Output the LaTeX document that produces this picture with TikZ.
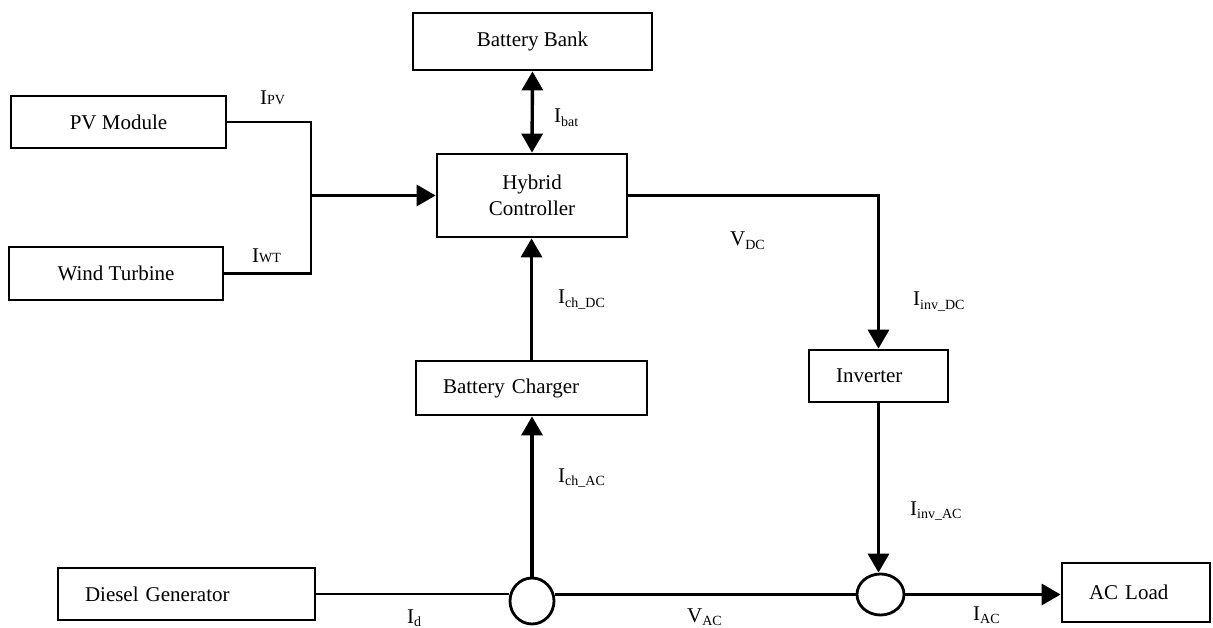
\documentclass[tikz,border=0pt]{standalone}
\usepackage{fontspec}
\setmainfont{Liberation Serif}
\usetikzlibrary{arrows.meta,shapes.geometric}
\newcommand\Isub[2]{#1\raisebox{-0.35ex}{\fontsize{14}{16}\selectfont #2}}
\newcommand\Ibase[2]{#1{\fontsize{14}{16}\selectfont #2}}
\begin{document}
\begin{tikzpicture}[x=1pt,y=-1pt,
  every node/.style={font=\fontsize{21}{25}\selectfont},
  blk/.style={draw, line width=2.8pt, inner sep=0pt, align=center},
  lblk/.style={draw, line width=2.8pt, inner xsep=27pt, inner ysep=0pt, align=left},
  junc/.style={draw, ellipse, line width=2.8pt, inner sep=0pt},
  wire/.style={line width=2.8pt},
  arr/.style={line width=3.4pt, -{Triangle[width=21pt,length=19pt]}},
  darr/.style={line width=3.4pt, {Triangle[width=21pt,length=19pt]}-{Triangle[width=21pt,length=19pt]}},
  tag/.style={inner sep=0pt, anchor=base west}]
\useasboundingbox (0,0) rectangle (1213,628);

% blocks
\node[blk, minimum width=215pt, minimum height=52pt] (pv) at (118.5,122) {PV Module};
\node[blk, minimum width=214pt, minimum height=53pt] (wt) at (116,273.5) {Wind Turbine};
\node[blk, minimum width=239pt, minimum height=57pt] (bb) at (532.5,41.5) {Battery Bank};
\node[blk, minimum width=190pt, minimum height=83pt, font=\fontsize{21}{26}\selectfont] (hc) at (532,195.5) {Hybrid\\Controller};
\node[lblk, text width=177pt, minimum height=54pt] (bc) at (531.5,388) {Battery Charger};
\node[lblk, text width=85pt, minimum height=52pt] (inv) at (878.5,376) {Inverter};
\node[lblk, text width=203pt, minimum height=52pt] (dg) at (186.5,594) {Diesel Generator};
\node[lblk, text width=94pt, minimum height=59pt] (acl) at (1136,592.5) {AC Load};

% junctions
\node[junc, minimum width=44pt, minimum height=46pt] (c1) at (532,601) {};
\node[junc, minimum width=47pt, minimum height=41pt] (c2) at (880.5,594.5) {};
\coordinate (j) at (311,195.5);

% connectors
\draw[wire] (pv.east) -| (j) |- (wt.east);
\draw[arr] (j) -- (hc.west);
\draw[darr] (bb.south) -- (hc.north);
\draw[arr] (hc.east) -| (inv.north);
\draw[arr] (bc.north) -- (bc.north |- hc.south);
\draw[arr] (c1.north) -- (c1.north |- bc.south);
\draw[wire] (dg.east) -- (c1.west |- dg.east);
\draw[wire] (c1.east |- c2.west) -- (c2.west);
\draw[arr] (inv.south) -- (inv.south |- c2.north);
\draw[arr] (c2.east) -- (c2.east -| acl.west);

% labels
\node[tag] (lpv) at (260,105) {\Ibase{I}{PV}};
\node[tag] (lwt) at (252,263) {\Ibase{I}{WT}};
\node[tag] (lbat) at (554,123) {\Isub{I}{bat}};
\node[tag] (lvdc) at (730,246) {\Isub{V}{DC}};
\node[tag] (linvdc) at (913,306) {\Isub{I}{inv\_DC}};
\node[tag] (lchdc) at (558,304) {\Isub{I}{ch\_DC}};
\node[tag] (lchac) at (558,482) {\Isub{I}{ch\_AC}};
\node[tag] (linvac) at (910,515) {\Isub{I}{inv\_AC}};
\node[tag] (ld) at (407,623) {\Isub{I}{d}};
\node[tag] (lvac) at (687,622) {\Isub{V}{AC}};
\node[tag] (lac) at (973,620) {\Isub{I}{AC}};
\end{tikzpicture}
\end{document}
